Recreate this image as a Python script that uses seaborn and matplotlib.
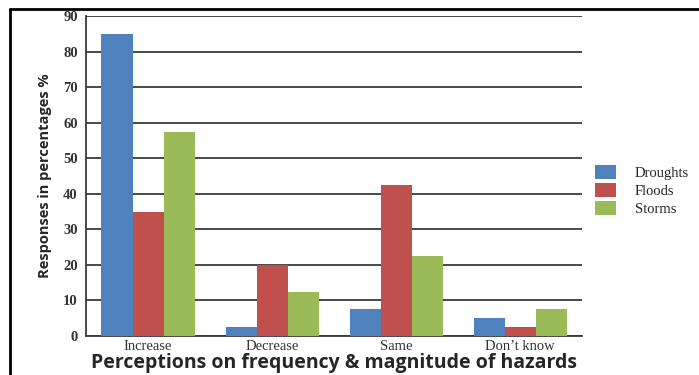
import matplotlib
matplotlib.use('Agg')
import matplotlib.pyplot as plt
from matplotlib.lines import Line2D
import pandas as pd
import seaborn as sns

# 数据
categories = ['Increase', 'Decrease', 'Same', "Don\u2019t know"]
series = ['Droughts', 'Floods', 'Storms']
droughts = [85, 2.5, 7.5, 5]
floods = [35, 20, 42.5, 2.5]
storms = [57.5, 12.5, 22.5, 7.5]
colors = ['#4F81BD', '#C0504D', '#9BBB59']

rows = []
for name, vals in zip(series, [droughts, floods, storms]):
    for c, v in zip(categories, vals):
        rows.append({'cat': c, 'hazard': name, 'value': v})
df = pd.DataFrame(rows)

sns.set_style('white')
fig = plt.figure(figsize=(6.99, 3.75), dpi=100)
ax = fig.add_axes([0.123, 0.104, 0.710, 0.853])

sns.barplot(data=df, x='cat', y='value', hue='hazard', palette=colors,
            width=0.75, gap=0, saturation=1, linewidth=0, ax=ax, legend=True, zorder=3)

# 网格线
ax.set_ylim(0, 90)
ax.set_yticks(range(0, 91, 10))
ax.set_xlim(-0.5, 3.5)
ax.yaxis.grid(True, color='#3a3a3a', linewidth=1.3, zorder=0)
ax.set_axisbelow(True)
for s in ['top', 'right']:
    ax.spines[s].set_visible(False)
for s in ['left', 'bottom']:
    ax.spines[s].set_color('#3a3a3a')
    ax.spines[s].set_linewidth(1.3)

ax.set_xticks([-0.5, 0.5, 1.5, 2.5, 3.5], minor=True)
ax.tick_params(axis='x', which='minor', length=4, width=1.3, color='#3a3a3a', direction='in')
ax.tick_params(axis='x', which='major', length=0, pad=3)
ax.tick_params(axis='y', length=5, width=1.3, color='#3a3a3a', direction='out', pad=1)
for lab in ax.get_xticklabels() + ax.get_yticklabels():
    lab.set_family('Liberation Serif')
    lab.set_fontsize(10.5)
    lab.set_color('#333333')
for lab in ax.get_yticklabels():
    lab.set_fontweight('bold')

ax.set_xlabel('Perceptions on frequency & magnitude of hazards',
              family='Open Sans', fontweight='bold', fontsize=14, labelpad=0)
ax.set_ylabel('Responses in percentages %', family='Open Sans',
              fontweight='bold', fontsize=10.5, labelpad=8)

leg = ax.legend(loc='center left', bbox_to_anchor=(1.0, 0.455), frameon=False,
                prop={'family': 'Liberation Serif', 'size': 10.5},
                handlelength=1.4, handleheight=1.1, labelspacing=0.2, handletextpad=1.3)

# 外框线
fig.add_artist(Line2D([0.014, 1.0], [0.976, 0.976], color='black', linewidth=2))
fig.add_artist(Line2D([0.014, 0.014], [0.0, 0.976], color='black', linewidth=2))

fig.savefig('out.png', dpi=100)
